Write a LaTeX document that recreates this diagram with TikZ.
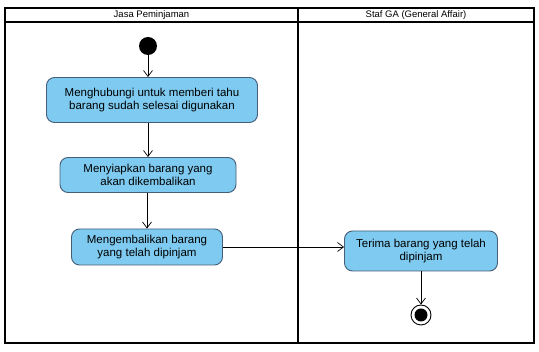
\documentclass[tikz,border=0pt]{standalone}
\usepackage{fontspec}
\setmainfont{Liberation Sans}
\usetikzlibrary{arrows.meta,positioning}

\definecolor{actfill}{RGB}{126,202,240}
\definecolor{actline}{RGB}{70,95,120}

\begin{document}
\begin{tikzpicture}[x=1pt, y=-1pt,
  act/.style={draw=actline, fill=actfill, rounded corners=8pt, align=center,
              font=\fontsize{11.5}{13.5}\selectfont, line width=0.9pt, inner sep=3pt},
  arr/.style={-{Straight Barb[length=6pt,width=9pt]}, line width=0.7pt},
  lane/.style={line width=1.3pt},
  head/.style={font=\fontsize{9.5}{11}\selectfont}]
\useasboundingbox (0,0) rectangle (539,352);
% swimlanes
\draw[lane] (5,8) rectangle (534,343);
\draw[lane] (5,22) -- (534,22);
\draw[lane] (298,8) -- (298,343);
\node[head] (lanea) at (151.5,15) {Jasa Peminjaman};
\node[head] (laneb) at (416,15) {Staf GA (General Affair)};
% activities
\node[circle, fill=black, minimum size=18pt, inner sep=0pt] (start) at (148,46) {};
\node[act, minimum width=211pt, minimum height=45pt] (hub) at (152,100)
  {Menghubungi untuk memberi tahu\\ barang sudah selesai digunakan};
\node[act, minimum width=176pt, minimum height=35pt] (siap) at (148,175)
  {Menyiapkan barang yang\\ akan dikembalikan};
\node[act, minimum width=151pt, minimum height=36pt] (kembali) at (147,247)
  {Mengembalikan barang\\ yang telah dipinjam};
\node[act, minimum width=153pt, minimum height=40pt] (terima) at (421,251)
  {Terima barang yang telah\\ dipinjam};
\node[circle, draw, line width=0.9pt, minimum size=20pt, inner sep=0pt] (end) at (421,315) {};
\node[circle, fill=black, minimum size=13pt, inner sep=0pt] (endin) at (end) {};
% flows
\draw[arr] (start) -- (start |- hub.north);
\draw[arr] (hub.south -| siap) -- (siap.north);
\draw[arr] (siap.south -| kembali) -- (kembali.north);
\draw[arr] (kembali.east) -- (kembali.east -| terima.west);
\draw[arr] (terima.south) -- (end.north);
\end{tikzpicture}
\end{document}
